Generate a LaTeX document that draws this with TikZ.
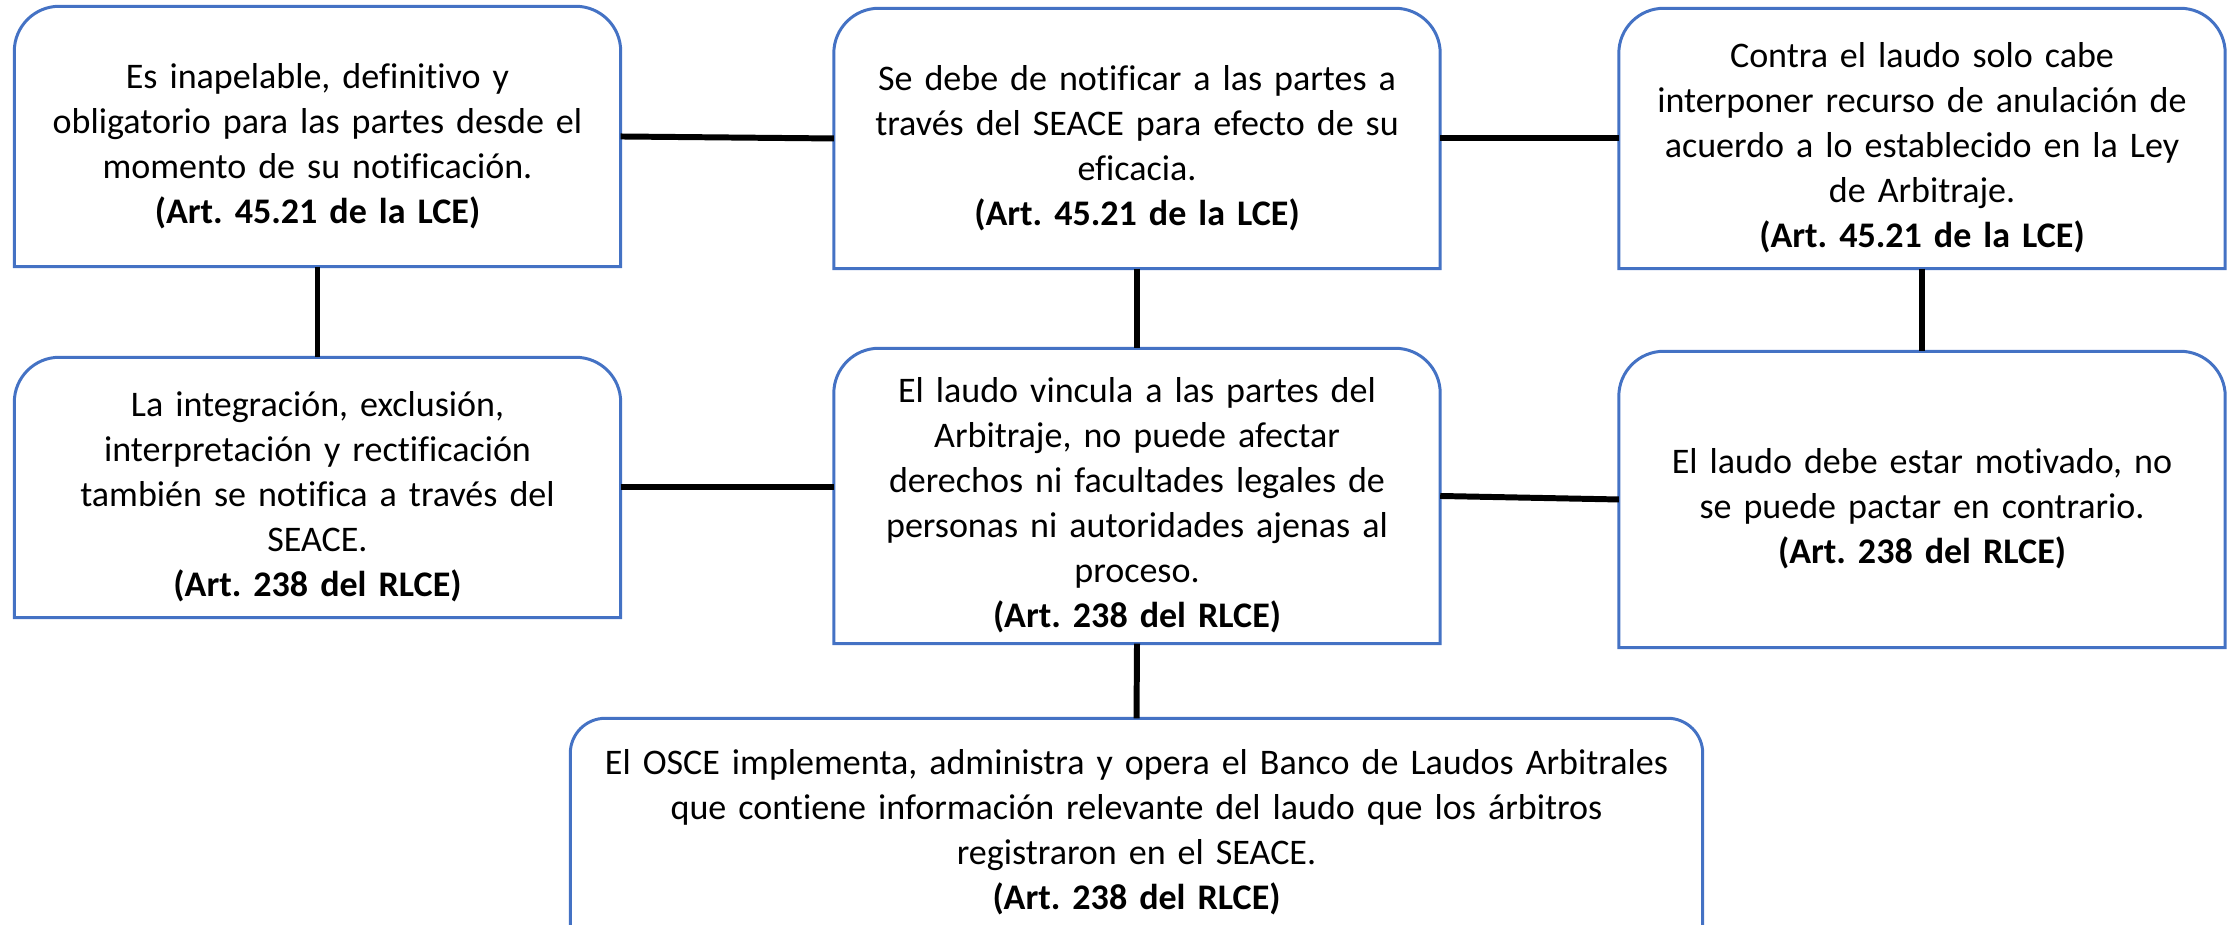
\documentclass[tikz,border=0pt]{standalone}
\usepackage{fontspec}
\setmainfont{Carlito}[Ligatures=NoCommon]
\frenchspacing
\definecolor{azulcaja}{HTML}{4472C4}
\newcommand{\cita}[1]{\textbf{(#1)}}
\newcommand{\marco}[2][0.45cm]{%
   \draw[marcoazul] (#2.south west) -- ([yshift=-#1]#2.north west)
      arc[start angle=180,end angle=90,radius=#1] -- ([xshift=-#1]#2.north east)
      arc[start angle=90,end angle=0,radius=#1] -- (#2.south east) -- cycle;}
\tikzset{
   caja/.style={text width=5.85cm, inner xsep=0.1cm, inner ysep=0pt, align=center,
      font=\fontsize{10.25pt}{12.8pt}\selectfont, execute at begin node=\rule{0pt}{12.5pt}},
   marcoazul/.style={azulcaja, line width=0.85pt},
   enlace/.style={black, line width=1.7pt}
}

\begin{document}
\begin{tikzpicture}
   \useasboundingbox (0,0) rectangle (22.29,9.25);
   \clip (0,0) rectangle (22.29,9.25);
   \node[caja, minimum height=2.59cm] (inapelable) at (3.175,7.885)
      {Es inapelable, definitivo y\\obligatorio para las partes desde el\\momento de su notificación.\\\cita{Art. 45.21 de la LCE}};
   \node[caja, minimum height=2.59cm] (notificar) at (11.37,7.865)
      {Se debe de notificar a las partes a\\través del SEACE para efecto de su\\eficacia.\\\cita{Art. 45.21 de la LCE}};
   \node[caja, minimum height=2.59cm] (anulacion) at (19.22,7.865)
      {Contra el laudo solo cabe\\interponer recurso de anulación de\\acuerdo a lo establecido en la Ley\\de Arbitraje.\\\cita{Art. 45.21 de la LCE}};
   \node[caja, minimum height=2.59cm] (integracion) at (3.175,4.375)
      {La integración, exclusión,\\interpretación y rectificación\\también se notifica a través del\\SEACE.\\\cita{Art. 238 del RLCE}};
   \node[caja, minimum height=2.94cm] (vincula) at (11.37,4.29)
      {El laudo vincula a las partes del\\Arbitraje, no puede afectar\\derechos ni facultades legales de\\personas ni autoridades ajenas al\\proceso.\\\cita{Art. 238 del RLCE}};
   \node[caja, minimum height=2.95cm] (motivado) at (19.22,4.255)
      {El laudo debe estar motivado, no\\se puede pactar en contrario.\\\cita{Art. 238 del RLCE}};
   \node[caja, text width=11.11cm, minimum height=2.08cm] (banco) at (11.365,1.02)
      {El OSCE implementa, administra y opera el Banco de Laudos Arbitrales\\que contiene información relevante del laudo que los árbitros\\registraron en el SEACE.\\\cita{Art. 238 del RLCE}};
   \foreach \caja in {inapelable,notificar,anulacion,integracion,vincula,motivado} {
      \marco{\caja}
   }
   \marco[0.35cm]{banco}
   \draw[enlace] (inapelable.east) -- (notificar.west);
   \draw[enlace] (notificar.east) -- (anulacion.west);
   \draw[enlace] (inapelable.south) -- (integracion.north);
   \draw[enlace] (notificar.south) -- (vincula.north);
   \draw[enlace] (anulacion.south) -- (motivado.north);
   \draw[enlace] (integracion.east) -- (integracion.east -| vincula.west);
   \draw[enlace] (vincula.east) -- (motivado.west);
   \draw[enlace] (vincula.south) -- (banco.north);
\end{tikzpicture}
\end{document}
